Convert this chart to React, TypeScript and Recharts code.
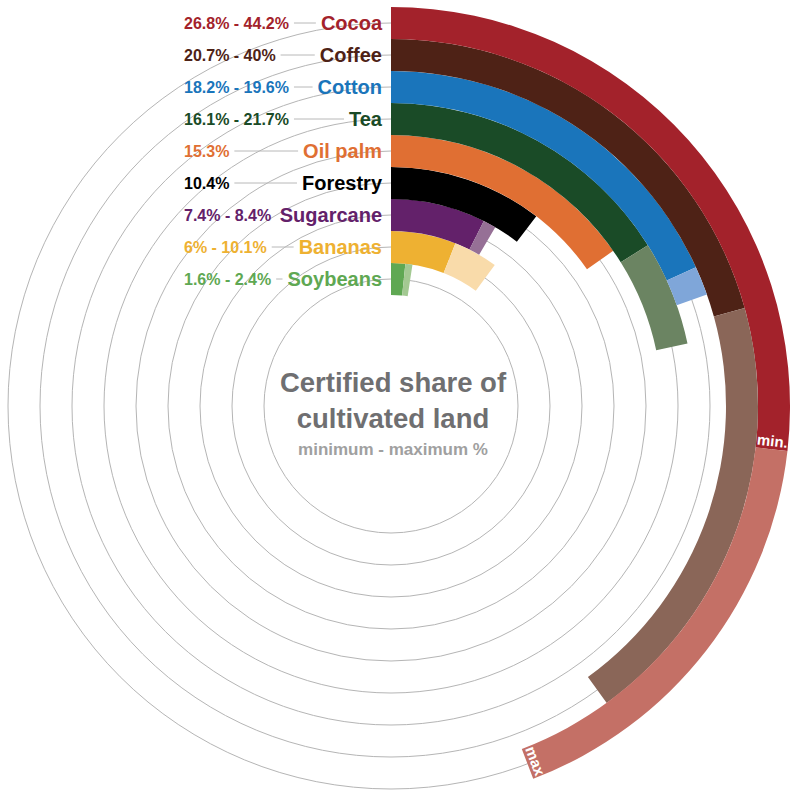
import React from 'react';
import { RadialBarChart, RadialBar, PolarAngleAxis, PolarRadiusAxis, PolarGrid, Sector } from 'recharts';

const crops = ['Cocoa', 'Coffee', 'Cotton', 'Tea', 'Oil palm', 'Forestry', 'Sugarcane', 'Bananas', 'Soybeans'];
const minShare = [26.8, 20.7, 18.2, 16.1, 15.3, 10.4, 7.4, 6, 1.6];
const maxShare = [44.2, 40, 19.6, 21.7, 15.3, 10.4, 8.4, 10.1, 2.4];
const minColors = ['#a3222b', '#4e2216', '#1a75bb', '#1a4b27', '#e06f33', '#000000', '#63216a', '#eeb132', '#5fa853'];
const maxColors = ['#c47066', '#8a6658', '#7fa6d9', '#6b8462', '#e06f33', '#000000', '#967096', '#f9dbaa', '#a3c992'];
const labelColors = ['#a3222b', '#4e2216', '#1a75bb', '#1a4b27', '#e06f33', '#000000', '#63216a', '#eeb132', '#5fa853'];

const W = 790;
const H = 792;
const CX = 391;
const CY = 406;
const FONT = "'Liberation Sans', Arial, Helvetica, sans-serif";
const RANGE_SIZE = 16;
const NAME_SIZE = 20;
const RADIAN = Math.PI / 180;

const rangeLabel = (i: number) =>
  minShare[i] === maxShare[i] ? `${minShare[i]}%` : `${minShare[i]}% - ${maxShare[i]}%`;

const data = crops
  .map((name, i) => ({ name, idx: i, min: minShare[i], extra: maxShare[i] - minShare[i] }))
  .reverse();

let ctx: CanvasRenderingContext2D | null = null;
function measure(text: string, size: number) {
  if (!ctx) ctx = document.createElement('canvas').getContext('2d');
  if (!ctx) return text.length * size * 0.55;
  ctx.font = `bold ${size}px ${FONT}`;
  return ctx.measureText(text).width;
}

const CropTick = (props: any) => {
  const { x, y, payload } = props;
  const i = crops.indexOf(payload && payload.value);
  if (i < 0) return null;
  const rangeText = rangeLabel(i);
  const rangeX = x - 207;
  const nameRight = x - 9;
  const rw = measure(rangeText, RANGE_SIZE);
  const nw = measure(crops[i], NAME_SIZE);
  const l1 = rangeX + rw + 5;
  const l2 = nameRight - nw - 5;
  return (
    <g>
      <text x={rangeX} y={y} dy="0.36em" textAnchor="start" fill={labelColors[i]} fontSize={RANGE_SIZE} fontWeight="bold" fontFamily={FONT}>
        {rangeText}
      </text>
      {l2 - l1 > 2 && <line x1={l1} x2={l2} y1={y} y2={y} stroke="#b8b8b8" strokeWidth={1} />}
      <text x={nameRight} y={y} dy="0.36em" textAnchor="end" fill={labelColors[i]} fontSize={NAME_SIZE} fontWeight="bold" fontFamily={FONT}>
        {crops[i]}
      </text>
    </g>
  );
};

const makeShape = (colors: string[], tag: string | null) => (props: any) => {
  const { cx, cy, innerRadius, outerRadius, startAngle, endAngle, payload } = props;
  const i = payload ? payload.idx : 0;
  if (Math.abs(endAngle - startAngle) < 1e-6) return <g />;
  let label = null;
  if (tag && i === 0) {
    const r = (innerRadius + outerRadius) / 2;
    const x = cx + r * Math.cos(-endAngle * RADIAN);
    const y = cy + r * Math.sin(-endAngle * RADIAN);
    label = (
      <text transform={`translate(${x},${y}) rotate(${-endAngle})`} x={0} y={-3} textAnchor="middle" fill="#ffffff" fontSize={15} fontWeight="bold" fontFamily={FONT}>
        {tag}
      </text>
    );
  }
  return (
    <g>
      <Sector cx={cx} cy={cy} innerRadius={innerRadius} outerRadius={outerRadius} startAngle={startAngle} endAngle={endAngle} fill={colors[i]} stroke="none" />
      {label}
    </g>
  );
};

export default function App() {
  return (
    <div style={{ position: 'absolute', left: 0, top: 0, width: W, height: H, background: '#ffffff' }}>
      <RadialBarChart
        width={W}
        height={H}
        data={data}
        cx={CX}
        cy={CY}
        innerRadius={111}
        outerRadius={399}
        startAngle={90}
        endAngle={-270}
        barCategoryGap={0}
        barGap={0}
        margin={{ top: 0, right: 0, bottom: 0, left: 0 }}
      >
        <PolarGrid gridType="circle" radialLines={false} stroke="#b5b5b5" strokeWidth={1} />
        <PolarAngleAxis type="number" domain={[0, 100]} tick={false} axisLine={false} />
        <PolarRadiusAxis type="category" dataKey="name" angle={90} axisLine={false} tickLine={false} tick={(p: any) => <CropTick {...p} />} />
        <RadialBar dataKey="min" stackId="a" isAnimationActive={false} shape={makeShape(minColors, 'min.')} />
        <RadialBar dataKey="extra" stackId="a" isAnimationActive={false} shape={makeShape(maxColors, 'max')} />
      </RadialBarChart>
      <svg width={W} height={H} style={{ position: 'absolute', left: 0, top: 0, pointerEvents: 'none' }}>
        <text x={CX + 2} y={CY - 24} dy="0.36em" textAnchor="middle" fill="#6f6f71" fontSize={27.5} fontWeight="bold" fontFamily={FONT}>
          Certified share of
        </text>
        <text x={CX + 2} y={CY + 12} dy="0.36em" textAnchor="middle" fill="#6f6f71" fontSize={27.5} fontWeight="bold" fontFamily={FONT}>
          cultivated land
        </text>
        <text x={CX + 2} y={CY + 43} dy="0.36em" textAnchor="middle" fill="#a0a0a0" fontSize={17} fontWeight="bold" fontFamily={FONT}>
          minimum - maximum %
        </text>
      </svg>
    </div>
  );
}
